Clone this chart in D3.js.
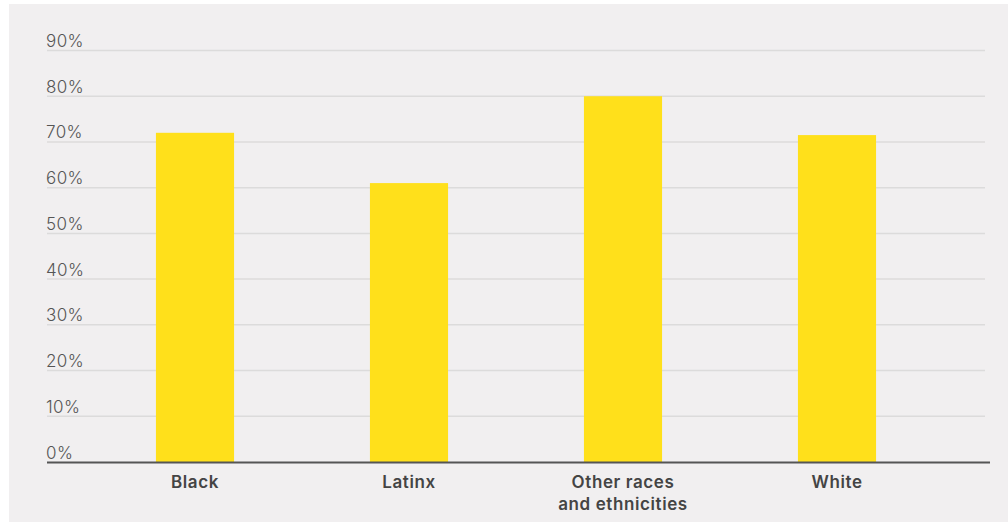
<!DOCTYPE html>
<html><head><meta charset="utf-8">
<script src="https://cdn.jsdelivr.net/npm/d3@7"></script>
<style>html,body{margin:0;padding:0;background:#fff;}</style>
</head><body>
<svg id="c" width="1008" height="522"></svg>
<script>
const categories = [["Black"], ["Latinx"], ["Other races", "and ethnicities"], ["White"]];
const values = [72, 61, 80, 71.5];
const tickValues = [0, 10, 20, 30, 40, 50, 60, 70, 80, 90];

const svg = d3.select("#c");
svg.append("rect").attr("x", 9).attr("y", 4).attr("width", 999).attr("height", 518).attr("fill", "#f1eff0");

const y = d3.scaleLinear().domain([0, 90]).range([462, 50.5]);
const keys = categories.map(c => c.join(" "));
const x = d3.scaleBand().domain(keys).range([88, 944]).paddingInner(0.635).paddingOuter(0.3175);

const grid = svg.append("g");
grid.selectAll("line").data(tickValues.filter(t => t > 0)).join("line")
  .attr("x1", 47).attr("x2", 985)
  .attr("y1", d => y(d)).attr("y2", d => y(d))
  .attr("stroke", "#dcdbdb").attr("stroke-width", 1.5);

svg.append("g").selectAll("text").data(tickValues).join("text")
  .attr("x", 46).attr("y", d => y(d) - 3.5)
  .attr("font-family", "Inter, sans-serif").attr("font-size", 17).attr("font-weight", 300)
  .attr("letter-spacing", 0.4)
  .attr("fill", "#555").text(d => d + "%");

svg.append("g").selectAll("rect").data(values).join("rect")
  .attr("x", (d, i) => x(keys[i])).attr("width", x.bandwidth())
  .attr("y", d => y(d)).attr("height", d => y(0) - y(d))
  .attr("fill", "#ffe01b");

svg.append("line").attr("x1", 47).attr("x2", 990).attr("y1", y(0) + 0.5).attr("y2", y(0) + 0.5)
  .attr("stroke", "#555").attr("stroke-width", 2);

const lab = svg.append("g").selectAll("text").data(categories).join("text")
  .attr("x", (d, i) => x(keys[i]) + x.bandwidth() / 2).attr("y", 488)
  .attr("text-anchor", "middle")
  .attr("font-family", "Inter, sans-serif").attr("font-size", 17).attr("font-weight", 600)
  .attr("letter-spacing", 0.6)
  .attr("fill", "#444");
lab.selectAll("tspan").data(d => d).join("tspan")
  .attr("x", function() { return d3.select(this.parentNode).attr("x"); })
  .attr("dy", (d, i) => i === 0 ? 0 : 22).text(d => d);
</script>
</body></html>
